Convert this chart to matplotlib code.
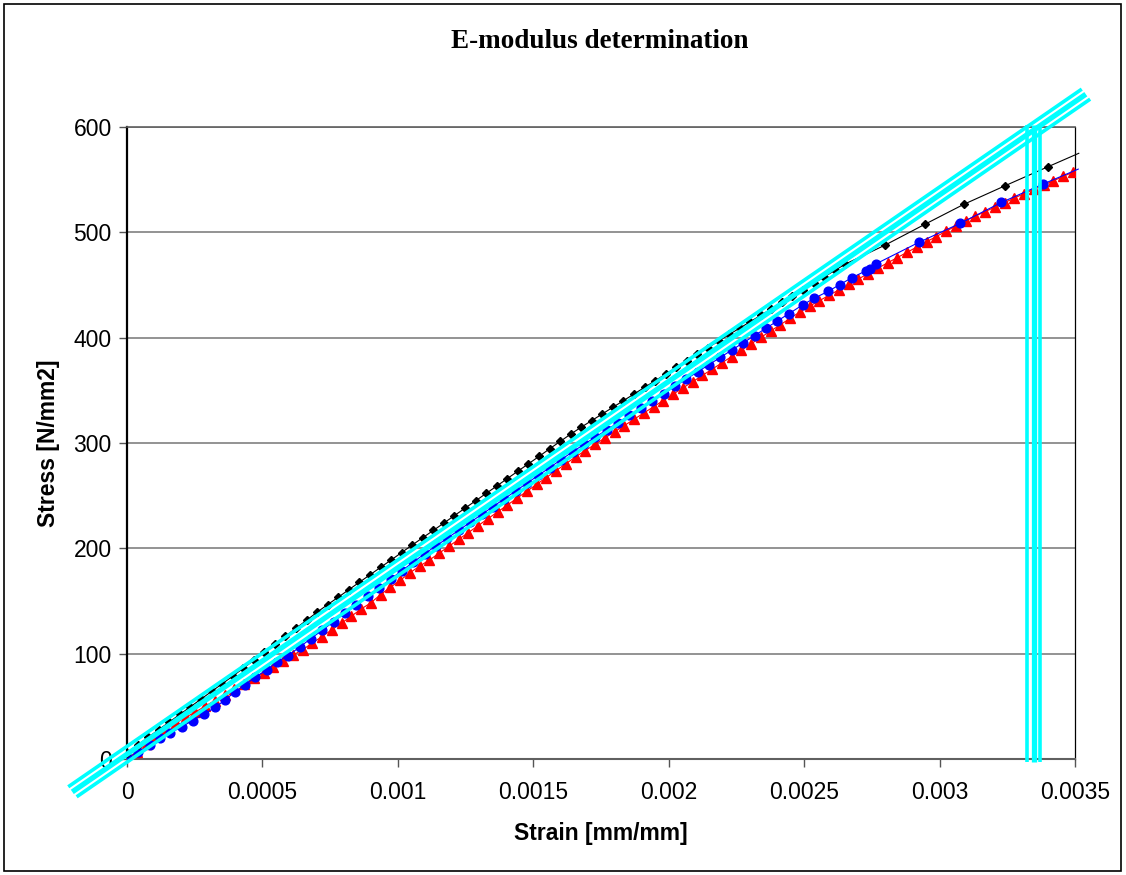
import numpy as np
import matplotlib
matplotlib.use('Agg')
import matplotlib.pyplot as plt
from matplotlib.patches import Rectangle

# strain in microstrain, stress in N/mm2
red_strain = [0, 36, 72, 108, 144, 180, 216, 252, 288, 324, 360, 396, 432, 468, 504, 540,
              576, 612, 648, 684, 720, 756, 792, 828, 864, 900, 936, 972, 1008, 1044, 1080,
              1116, 1152, 1188, 1224, 1260, 1296, 1332, 1368, 1404, 1440, 1476, 1512, 1548,
              1584, 1620, 1656, 1692, 1728, 1764, 1800, 1836, 1872, 1908, 1944, 1980, 2016,
              2052, 2088, 2124, 2160, 2196, 2232, 2268, 2304, 2340, 2376, 2412, 2448, 2484,
              2520, 2556, 2592, 2628, 2664, 2700, 2736, 2772, 2808, 2844, 2880, 2916, 2952,
              2988, 3024, 3060, 3096, 3132, 3168, 3204, 3240, 3276, 3312, 3348, 3384, 3420,
              3456, 3492]
red_stress = [0, 7, 14.5, 22, 28.5, 34, 39.5, 44.5, 50, 55.5, 61, 66.5, 71.5, 77, 82, 87.5,
              93, 98.5, 103.6, 110.1, 116.2, 122.6, 129, 135.5, 142.3, 148.2, 156, 162.9,
              169.5, 176.7, 183, 188.8, 195.3, 201.8, 208.4, 214.9, 221.4, 228, 234.5, 241,
              247.6, 254.1, 260.6, 267.2, 273.7, 280.2, 286.8, 292.8, 298.7, 304.7, 310.6,
              316.5, 322.5, 328.4, 334.4, 340.3, 346.2, 352.2, 358.1, 364.1, 370, 376, 382,
              388, 394.1, 400.2, 406.2, 412.2, 418.3, 424.3, 429.9, 435, 440.2, 445.3, 450.5,
              455.6, 460.8, 465.9, 471, 476, 481, 486, 491, 496, 501, 506.1, 511.1, 515.4,
              519.6, 523.9, 528.2, 532.5, 536.7, 540.8, 544.8, 548.9, 553, 557]

blue_strain = [0, 42, 85, 122, 159, 202, 242, 284, 325, 362, 399, 436, 472, 516, 553, 595,
               637, 679, 721, 763, 805, 847, 889, 931, 973, 1015, 1057, 1099, 1141, 1183,
               1225, 1267, 1309, 1351, 1393, 1435, 1477, 1519, 1561, 1603, 1645, 1687, 1729,
               1771, 1813, 1855, 1897, 1939, 1981, 2023, 2065, 2107, 2149, 2191, 2233, 2275,
               2317, 2359, 2401, 2443, 2494, 2538, 2589, 2632, 2677, 2730, 2742, 2765, 2924,
               3077, 3228, 3382]
blue_stress = [1, 6.5, 13.3, 19.6, 24.4, 30.7, 36.4, 42.4, 49, 56, 63.9, 70.3, 77.5, 84.5,
               92, 98.2, 106.2, 114.3, 122.3, 130.4, 138.5, 146.5, 154.6, 162.7, 170.7,
               178.8, 186.8, 194.9, 202.3, 209.7, 217.2, 224.6, 232.1, 239.5, 247, 254.4,
               261.9, 269.3, 276.7, 284.2, 291.6, 298.6, 305.5, 312.4, 319.3, 326.2, 333.1,
               340, 346.9, 353.8, 360.7, 367.6, 374.4, 381.3, 388.2, 395.1, 402, 408.9,
               415.8, 422.6, 431, 437.5, 444, 450.4, 457, 463.7, 465.6, 470, 490.5, 508.6,
               528.3, 545.8]
blue_tail = (3512, 560)

black_strain = [0, 39, 78, 117, 156, 195, 234, 273, 312, 351, 390, 429, 468, 507, 546, 585,
                624, 663, 702, 741, 780, 819, 858, 897, 936, 975, 1014, 1053, 1092, 1131,
                1170, 1209, 1248, 1287, 1326, 1365, 1404, 1443, 1482, 1521, 1560, 1599, 1638,
                1677, 1716, 1755, 1794, 1833, 1872, 1911, 1950, 1989, 2028, 2067, 2106, 2145,
                2184, 2223, 2262, 2301, 2340, 2379, 2418, 2457, 2496, 2535, 2574, 2613, 2652,
                2800, 2945, 3089, 3242, 3400]
black_stress = [6, 13.3, 20.5, 27.8, 35, 42.3, 49.5, 56.8, 64.1, 71.3, 78.6, 86.1, 93.7,
                101.3, 108.9, 116.5, 124.1, 131.7, 139.4, 146.6, 153.6, 160.7, 167.8, 174.8,
                181.9, 188.9, 196, 203.1, 210.1, 217, 224, 231.1, 238.1, 245.1, 252.1, 259.1,
                266.2, 273.2, 280.2, 287.2, 294.4, 301.4, 308.4, 315, 321.3, 327.6, 333.9,
                340.2, 346.5, 352.8, 359.1, 365.4, 371.7, 378, 384.2, 390.5, 396.8, 403, 409,
                415.1, 421.2, 427.3, 433.4, 439.4, 445.5, 451.6, 457.7, 463.8, 469.8, 488,
                507.5, 526.5, 544.2, 562.2]
black_tail = (3514, 575)

# modulus reference lines: y = E*x + offset
E_mod = 177000.0
offsets = [12.0, 4.5, -3.0]
line_start = [-0.000217, -0.000202, -0.000186]
line_end = [0.003525, 0.00354, 0.003556]
drop_strain = [0.003323, 0.003347, 0.003371]
ref_widths = [2.6, 3.8, 2.6]

xticks = [0, 0.0005, 0.001, 0.0015, 0.002, 0.0025, 0.003, 0.0035]
xticklabels = ['0', '0.0005', '0.001', '0.0015', '0.002', '0.0025', '0.003', '0.0035']
yticks = [0, 100, 200, 300, 400, 500, 600]

plt.rcParams['font.family'] = ['Liberation Sans', 'DejaVu Sans']

fig = plt.figure(figsize=(11.26, 8.75), dpi=100)
ax = fig.add_axes([0.1128, 0.1326, 0.8419, 0.7223])

rx = np.array(red_strain) * 1e-6
bx = np.array(blue_strain) * 1e-6
kx = np.array(black_strain) * 1e-6

ax.plot(rx, red_stress, color='red', lw=0.8, marker='^', ms=7, mec='red', mfc='red', zorder=3)

bx_line = np.append(bx, blue_tail[0] * 1e-6)
by_line = np.append(blue_stress, blue_tail[1])
ax.plot(bx_line, by_line, color='blue', lw=0.8, zorder=4, clip_on=False)
ax.plot(bx, blue_stress, ls='none', marker='o', ms=6.3, color='blue', zorder=4)

kx_line = np.append(kx, black_tail[0] * 1e-6)
ky_line = np.append(black_stress, black_tail[1])
ax.plot(kx_line, ky_line, color='black', lw=0.8, zorder=5, clip_on=False)
ax.plot(kx, black_stress, ls='none', marker='D', ms=4.5, color='black', zorder=5)

for b, x0, x1, w in zip(offsets, line_start, line_end, ref_widths):
    xs = np.array([x0, x1])
    ax.plot(xs, E_mod * xs + b, color='#00FFFF', lw=w, solid_capstyle='butt',
            zorder=6, clip_on=False)
for xd, w in zip(drop_strain, ref_widths):
    ax.plot([xd, xd], [-3, 602], color='#00FFFF', lw=w, solid_capstyle='butt',
            zorder=6, clip_on=False)

ax.set_xlim(0, 0.0035)
ax.set_ylim(0, 600)
ax.set_xticks(xticks)
ax.set_xticklabels(xticklabels)
ax.set_yticks(yticks)
ax.yaxis.grid(True, color='#808080', lw=1.2)
ax.set_axisbelow(True)
ax.tick_params(axis='both', direction='out', length=6, width=1, color='#555555',
               labelsize=16.5, labelcolor='black')
ax.tick_params(axis='x', pad=10)
ax.tick_params(axis='y', pad=5)

ax.spines['left'].set_color('black')
ax.spines['left'].set_linewidth(1.6)
ax.spines['right'].set_color('black')
ax.spines['right'].set_linewidth(0.9)
ax.spines['top'].set_color('#606060')
ax.spines['top'].set_linewidth(1.2)
ax.spines['bottom'].set_color('#606060')
ax.spines['bottom'].set_linewidth(1.5)

ax.set_xlabel('Strain [mm/mm]', fontsize=16.5, fontweight='bold', labelpad=13)
ax.set_ylabel('Stress [N/mm2]', fontsize=16.5, fontweight='bold', labelpad=10)

fig.text(0.533, 0.952, 'E-modulus determination', ha='center', va='center',
         fontsize=19.5, fontweight='bold', family=['Liberation Serif', 'DejaVu Serif'])

fig.patches.append(Rectangle((0.0036, 0.0045), 0.9920, 0.9910, transform=fig.transFigure,
                             fill=False, edgecolor='black', lw=1.2))

fig.savefig('out.png', dpi=100)
